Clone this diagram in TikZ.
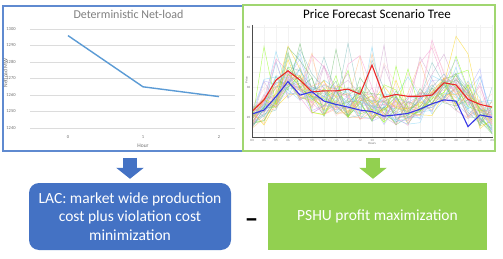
\documentclass[tikz,border=0pt]{standalone}
\usepackage{fontspec}
\setmainfont{Carlito}
\usepackage{tikz}
\usetikzlibrary{arrows.meta,positioning,calc}
\definecolor{officeBlue}{RGB}{68,114,196}
\definecolor{officeGreen}{RGB}{146,208,80}
\definecolor{frameBlue}{RGB}{95,138,208}
\definecolor{frameGreen}{RGB}{160,214,112}
\definecolor{lineBlue}{RGB}{91,155,213}
\definecolor{tickGray}{RGB}{110,110,110}
\definecolor{gridGray}{RGB}{220,220,220}
\definecolor{worstRed}{RGB}{235,40,40}
\definecolor{bestBlue}{RGB}{55,55,230}
\colorlet{scen0}{magenta!45}
\colorlet{scen1}{cyan!55}
\colorlet{scen2}{green!55!black!60}
\colorlet{scen3}{orange!55}
\colorlet{scen4}{violet!40}
\colorlet{scen5}{teal!55}
\colorlet{scen6}{yellow!70!orange}
\colorlet{scen7}{blue!35}
\colorlet{scen8}{pink!80}
\colorlet{scen9}{lime!70!green}

\begin{document}
\begin{tikzpicture}[x=1pt,y=-1pt,
    chartframe/.style={draw, line width=1.8pt, inner sep=0pt},
    charttitle/.style={font=\fontsize{12}{14}\selectfont, inner sep=0pt},
    tick/.style={font=\fontsize{4.5}{5}\selectfont, text=tickGray, inner sep=0pt},
    tinytick/.style={font=\fontsize{3.2}{4}\selectfont, text=tickGray, inner sep=0pt},
    goalbox/.style={fill, text=white, align=center, inner sep=0pt,
                    font=\fontsize{15.5}{18.5}\selectfont, minimum height=67pt},
    bigarrow/.style={line width=14pt, -{Triangle[width=27pt,length=11pt]},
                     shorten <=6pt, shorten >=4pt},
    scenline/.style={line width=0.45pt, opacity=0.6}
  ]
    \useasboundingbox (0,0) rectangle (503,259);
    \fill[white] (0,0) rectangle (503,259);
    % LEFT CHART: deterministic net-load
    \node[chartframe, draw=frameBlue, minimum width=240pt, minimum height=145pt] (netframe) at (123,78.5) {};
    \node[charttitle, text=gray] (nettitle) at (128.5,14) {Deterministic Net-load};
    \foreach \v in {1240,1250,...,1300} {
      \draw[gridGray, line width=0.5pt] (30,{29+(1300-\v)*1.65}) -- (235,{29+(1300-\v)*1.65});
      \node[tick] (ylab\v) at (11,{29+(1300-\v)*1.65}) {\v};
    }
    \draw[lineBlue, line width=1.4pt, line join=round] (68,35.6) -- (143,86.8) -- (219,96.6);
    \node[tick] (xlab0) at (68,137) {0};
    \node[tick] (xlab1) at (143,137) {1};
    \node[tick] (xlab2) at (219,137) {2};
    \node[tick, font=\fontsize{5.5}{6}\selectfont] (hourlab) at (143,146) {Hour};
    \node[tick, font=\fontsize{5.5}{6}\selectfont, rotate=90] (netlab) at (5.5,73) {Netload MW};
    % RIGHT CHART: price scenarios
    \node[chartframe, draw=frameGreen, minimum width=252pt, minimum height=146pt] (priceframe) at (369,78) {};
    \node[charttitle, font=\fontsize{13}{15}\selectfont] (pricetitle) at (377,14) {Price Forecast Scenario Tree};
    \foreach \h in {0,...,20}
      \draw[gray!10, line width=0.4pt] ({252+12*\h},25) -- ({252+12*\h},137);
    \foreach \v in {15,20,...,50}
      \draw[gray!10, line width=0.4pt] (252,{177-3*\v}) -- (493,{177-3*\v});
    \def\pmean{{20,22,27,31,29,26,25,25,24.5,24,23,22,22,22,23,25,29,27,24,21,19}}
    \def\redvals{{21.8,25.7,32.3,35.4,32.3,28.4,28.7,28.7,29.3,27.6,37.3,26.6,27.5,26.9,26.9,27.3,31.4,30.7,25.9,24.2,23.3}}
    \def\bluevals{{21,22.3,26.8,31.8,27.3,28.4,25.3,24.2,23.3,22.3,21.8,20.3,20.7,21.2,22.6,24.4,25.7,25.3,16.8,20.7,19.9}}
    \begin{scope}
      \clip (252,25) rectangle (493,137);
      \pgfmathsetseed{11}
      \foreach \k in {1,...,45} {
        \pgfmathtruncatemacro\ci{mod(\k,10)}
        \draw[scenline, color=scen\ci] (252,{177-3*(\pmean[0]+4*rand)})
          \foreach \h in {1,...,20} { -- ({252+12*\h},{177-3*(\pmean[\h]+5*rand+18*pow(rnd,9))}) };
      }
      \draw[worstRed, line width=1.1pt] (252,{177-3*\redvals[0]})
        \foreach \h in {1,...,20} { -- ({252+12*\h},{177-3*\redvals[\h]}) };
      \draw[bestBlue, line width=1.1pt] (252,{177-3*\bluevals[0]})
        \foreach \h in {1,...,20} { -- ({252+12*\h},{177-3*\bluevals[\h]}) };
    \end{scope}
    \draw[gray!60!black, line width=0.5pt] (252,25) -- (252,137) -- (493,137);
    \foreach \v in {20,30,40,50}
      \node[tinytick] (plab\v) at (248.5,{177-3*\v}) {\v};
    \foreach \lab [count=\i from 0] in {03,04,05,06,07,08,09,10,11,12,13,14,15,16,17,18,19,20,21,22,23}
      \node[tinytick] (hlab\lab) at ({252+12*\i},140) {\lab};
    \node[tinytick] (hourslab) at (372,143.5) {Hours};
    \node[tinytick, rotate=90] (pricelab) at (246.5,80) {Price};
    % BOTTOM ROW: problem boxes
    \node[goalbox, fill=officeBlue, rounded corners=10pt, minimum width=202pt] (lac) at (130,216.5)
      {LAC: market wide production\\cost plus violation cost\\minimization};
    \node[goalbox, fill=officeGreen, minimum width=219pt] (pshu) at (377.5,216.5) {PSHU profit maximization};
    \node[font=\fontsize{27}{27}\selectfont\bfseries, inner sep=0pt] (minus) at (251.5,223) {--};
    % Block arrows
    \draw[bigarrow, officeBlue] (netframe.south -| lac.north) -- (lac.north);
    \draw[bigarrow, officeGreen] ([xshift=-4.5pt]pshu.north |- priceframe.south) -- ([xshift=-4.5pt]pshu.north);
\end{tikzpicture}
\end{document}
